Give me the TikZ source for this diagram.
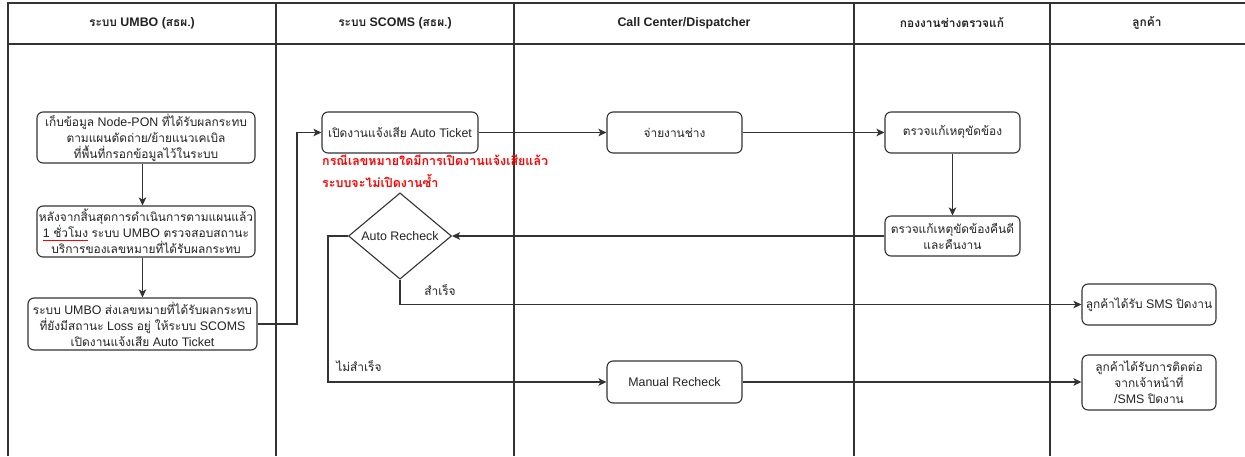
\documentclass[tikz,border=0pt]{standalone}
\usepackage{fontspec}
\setmainfont{Liberation Sans}
\newfontfamily\thaifont[Script=Thai,Scale=0.96]{Loma}
\usetikzlibrary{arrows.meta,shapes.geometric}
\newcommand\thx[1]{{\thaifont #1}}
\newcommand\redul[1]{\setbox0\hbox{#1}\rlap{\color{red}\rule[-3.5pt]{\wd0}{1.6pt}}\box0\relax}
\definecolor{txt}{HTML}{222222}
\definecolor{ln}{HTML}{333333}
\tikzset{
  box/.style={draw=ln, line width=1.1pt, rounded corners=6pt, align=center, text=txt, inner sep=1pt, font=\fontsize{12.4}{16}\selectfont},
  dia/.style={draw=ln, line width=1.1pt, diamond, inner sep=0pt, text=txt, font=\fontsize{12.4}{14.5}\selectfont},
  arr/.style={draw=ln, line width=1.2pt, -{Stealth[length=8pt,width=7.5pt,inset=2pt]}},
  lane/.style={draw=ln, line width=1.3pt},
  hdr/.style={font=\bfseries\fontsize{12.4}{14}\selectfont, text=txt},
  lbl/.style={font=\fontsize{12.4}{14}\selectfont, text=txt}
}
\begin{document}
\begin{tikzpicture}[x=1pt,y=-1pt]
\useasboundingbox (0,0) rectangle (1245,456);
% lanes
\draw[lane] (8,456) -- (8,3) -- (1245,3);
\draw[lane] (8,44) -- (1245,44);
\foreach \xx in {276,514,854,1050} \draw[lane] (\xx,3) -- (\xx,456);
\node[hdr] (h1) at (142,23) {\thx{ระบบ} UMBO (\thx{สธผ.})};
\node[hdr] (h2) at (395,23) {\thx{ระบบ} SCOMS (\thx{สธผ.})};
\node[hdr] (h3) at (684,23) {Call Center/Dispatcher};
\node[hdr] (h4) at (952,23) {\thx{กองงานช่างตรวจแก้}};
\node[hdr] (h5) at (1147,23) {\thx{ลูกค้า}};
% nodes
\node[box, minimum width=218pt, minimum height=51pt] (A) at (146,137.5)
  {\thx{เก็บข้อมูล} Node-PON \thx{ที่ได้รับผลกระทบ}\\\thx{ตามแผนตัดถ่าย/ย้ายแนวเคเบิล}\\\thx{ที่พื้นที่กรอกข้อมูลไว้ในระบบ}};
\node[box, minimum width=218pt, minimum height=51pt] (B) at (146,231.5)
  {\thx{หลังจากสิ้นสุดการดำเนินการตามแผนแล้ว}\\\redul{1 \thx{ชั่วโมง}} \thx{ระบบ} UMBO \thx{ตรวจสอบสถานะ}\\\thx{บริการของเลขหมายที่ได้รับผลกระทบ}};
\node[box, minimum width=229pt, minimum height=52pt] (C) at (142.5,324)
  {\thx{ระบบ} UMBO \thx{ส่งเลขหมายที่ได้รับผลกระทบ}\\\thx{ที่ยังมีสถานะ} Loss \thx{อยู่ ให้ระบบ} SCOMS\\\thx{เปิดงานแจ้งเสีย} Auto Ticket};
\node[box, minimum width=156pt, minimum height=41pt] (D) at (400,132.5) {\thx{เปิดงานแจ้งเสีย} Auto Ticket};
\node[box, minimum width=135pt, minimum height=41pt] (E) at (674.5,132.5) {\thx{จ่ายงานช่าง}};
\node[box, minimum width=135pt, minimum height=41pt] (F) at (952.5,132.5) {\thx{ตรวจแก้เหตุขัดข้อง}};
\node[box, minimum width=135pt, minimum height=40pt] (G) at (952.5,236) {\thx{ตรวจแก้เหตุขัดข้องคืนดี}\\\thx{และคืนงาน}};
\node[dia, minimum width=103pt, minimum height=82pt] (R) at (400,236) {Auto Recheck};
\node[box, minimum width=135pt, minimum height=42pt] (M) at (674.5,382) {Manual Recheck};
\node[box, minimum width=134pt, minimum height=41pt] (K1) at (1149,304.5) {\thx{ลูกค้าได้รับ} SMS \thx{ปิดงาน}};
\node[box, minimum width=134pt, minimum height=55pt] (K2) at (1149,382.5) {\thx{ลูกค้าได้รับการติดต่อ}\\\thx{จากเจ้าหน้าที่}\\/SMS \thx{ปิดงาน}};
\node[anchor=north west, align=left, text=red, font=\bfseries\fontsize{13}{22}\selectfont, inner sep=0pt] (note) at (322,155)
  {\thx{กรณีเลขหมายใดมีการเปิดงานแจ้งเสียแล้ว}\\\thx{ระบบจะไม่เปิดงานซ้ำ}};
\node[lbl] (ok) at (440,290) {\thx{สำเร็จ}};
\node[lbl] (nok) at (359,366) {\thx{ไม่สำเร็จ}};
% connectors
\coordinate (c1) at (297,324);
\coordinate (c2) at (328,382);
\draw[arr] (A.south -| C.north) -- (B.north -| C.north);
\draw[arr] (B.south -| C.north) -- (C.north);
\draw[arr] (C.east) -- (c1) |- (D.west);
\draw[arr] (D.east) -- (E.west);
\draw[arr] (E.east) -- (F.west);
\draw[arr] (F.south) -- (G.north);
\draw[arr] (G.west) -- (R.east);
\draw[arr] (R.west) -| (c2) -- (M.west);
\draw[arr] (R.south) |- (K1.west);
\draw[arr] (M.east) -- (M.east -| K2.west);
\end{tikzpicture}
\end{document}
